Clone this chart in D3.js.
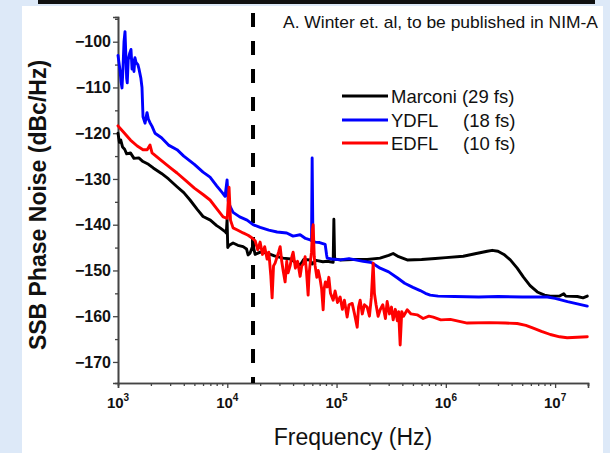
<!DOCTYPE html>
<html><head><meta charset="utf-8">
<script src="https://cdn.jsdelivr.net/npm/d3@7"></script>
<style>
html,body{margin:0;padding:0;background:#dde9f8;}
svg{display:block;}
text{font-family:"Liberation Sans",Arial,Helvetica,sans-serif;fill:#111;}
</style></head>
<body>
<svg id="chart" width="610" height="453"></svg>
<script>
// ---- data ----
const xMajorTicks = [1e3, 1e4, 1e5, 1e6, 1e7];
const xTickExponents = ["3", "4", "5", "6", "7"];
const yMajorTicks = [-100, -110, -120, -130, -140, -150, -160, -170];
const yMinorTicks = [-95, -105, -115, -125, -135, -145, -155, -165];
const seriesNames = ["Marconi", "YDFL", "EDFL"];
const seriesLabels = ["(29 fs)", "(18 fs)", "(10 fs)"];
const seriesColors = ["#000000", "#0000ff", "#ff0000"];
const cutoffFrequency = 17200;
const annotation = "A. Winter et. al, to be published in NIM-A";
const xTitle = "Frequency (Hz)";
const yTitle = "SSB Phase Noise (dBc/Hz)";

const marconi = [
 [1000,-120],[1030,-122],[1060,-121.5],[1100,-123],[1150,-123.5],[1200,-124.5],[1300,-124.3],[1400,-125.5],[1550,-125.4],[1694,-126.2],[1900,-126.8],[2100,-127.6],[2500,-128.8],[2900,-130],[3468,-131.7],[4000,-133],[4563,-134.6],[5287,-136.6],[6001,-138.2],[7000,-139],[8000,-140.2],[8595,-140.7],[9546,-141.5],[9800,-141.8],[9958,-138.8],[10100,-145],[10300,-144.6],[10610,-144.4],[11300,-144],[12500,-144.5],[13960,-144.8],[15000,-145.3],[15500,-146.6],[16170,-146.2],[17220,-144.5],[17980,-146.5],[20000,-146],[23130,-146.2],[27000,-146.8],[32450,-147.3],[38000,-147.5],[42000,-148.2],[46430,-148.8],[50000,-147.6],[57300,-147.7],[60000,-148.6],[65000,-147.8],[75000,-148.1],[82000,-148],[93100,-148.2],[94500,-138.8],[96000,-147.5],[107900,-147.7],[140000,-147.6],[190700,-147.6],[250000,-147.3],[300000,-146.7],[329600,-146.3],[370000,-147],[443300,-147.7],[600000,-147.6],[800000,-147.4],[1.0e6,-147.2],[1.443e6,-146.9],[1.9e6,-146.3],[2.393e6,-145.8],[2.66e6,-145.6],[3.0e6,-145.8],[3.4e6,-146.5],[3.89e6,-147.7],[4.5e6,-149.5],[5.114e6,-151.4],[5.9e6,-153.3],[6.871e6,-154.7],[8.0e6,-155.4],[9.036e6,-155.6],[1.1e7,-155.6],[1.2e7,-155.1],[1.25e7,-155.6],[1.6e7,-155.7],[1.8e7,-156],[1.97e7,-155.6]
];

const ydfl = [
 [1000,-103],[1040,-106],[1070,-109],[1088,-110.1],[1110,-106],[1135,-100],[1159,-97.8],[1180,-103],[1200,-108],[1215,-109],[1240,-104],[1280,-102.5],[1315,-101.7],[1345,-106],[1372,-104],[1400,-106.5],[1430,-103.5],[1462,-104.5],[1520,-105],[1557,-106],[1620,-108],[1658,-110],[1694,-116.4],[1767,-117.8],[1843,-115.5],[1900,-117],[1963,-117.7],[2050,-118.5],[2181,-120],[2500,-121],[2900,-122.6],[3468,-123.6],[4000,-125],[5000,-126.8],[6000,-128.5],[6955,-129.6],[8000,-131.5],[9000,-133],[9546,-133.8],[9958,-130.2],[10200,-134.8],[10610,-136],[11300,-137.3],[13000,-138.3],[15180,-139],[17220,-140],[20000,-140.6],[24000,-141.2],[28580,-141.6],[35000,-141.8],[40000,-142.5],[46430,-142.2],[52000,-143],[57300,-143.3],[59000,-143.5],[59800,-125.4],[60800,-143.6],[63700,-143.8],[70000,-143.9],[78700,-144.3],[81000,-146.5],[82000,-147.3],[90000,-147.5],[107900,-147.7],[130000,-147.4],[175400,-148],[210000,-148.3],[250600,-149.5],[300000,-150.3],[358800,-151.6],[420000,-152.8],[500000,-153.7],[583000,-154.4],[650000,-155],[719500,-155.4],[850000,-155.6],[1.2e6,-155.7],[2.0e6,-155.8],[3.0e6,-155.7],[5.0e6,-155.8],[7.0e6,-155.8],[8.486e6,-155.8],[1.0e7,-156.1],[1.3e7,-156.8],[1.6e7,-157.3],[1.97e7,-157.8]
];

const edfl = [
 [1000,-118.4],[1100,-119.5],[1300,-121.5],[1500,-122.8],[1694,-123.6],[1850,-123.6],[1963,-122.6],[2050,-124.3],[2500,-126],[3000,-127.5],[3468,-128.7],[4200,-130.4],[5000,-132],[6000,-133.4],[6955,-134.6],[8000,-136.5],[9156,-138.3],[10000,-138.6],[10380,-131.8],[10700,-139],[11300,-140.7],[12500,-141.2],[13960,-141.8],[15500,-142.3],[16870,-142.9],[17980,-143.5],[19000,-145.5],[19970,-143.8],[21000,-146.5],[22000,-144.8],[23130,-147.5],[24000,-146],[25000,-151],[25720,-156],[26500,-149],[27400,-148.4],[28580,-147],[29500,-146],[30470,-144.8],[31500,-148],[32450,-150],[33830,-152.5],[35000,-148],[36000,-150.5],[37580,-149],[39000,-147],[40060,-146],[42000,-149.5],[44000,-148],[46430,-151.3],[48000,-149],[50000,-148.5],[51540,-147],[53000,-150],[54940,-155.4],[56000,-151],[57300,-148.5],[59000,-146],[60200,-141],[61100,-140],[62500,-147],[63700,-149],[66000,-151.5],[68000,-150],[70800,-152],[73000,-154],[75400,-158.6],[77000,-154],[79000,-152.5],[82000,-153.6],[85000,-151.5],[88000,-155],[93100,-156.5],[97000,-154.5],[102000,-157],[107900,-155.8],[113000,-158.5],[118000,-156.5],[125000,-160.2],[130000,-157.5],[139000,-157.2],[146000,-159.5],[154500,-162.4],[159000,-158],[164500,-156.5],[172000,-159.5],[180000,-157.5],[190700,-158],[200000,-160],[208000,-156],[216300,-148.4],[222000,-155],[230000,-157.5],[240000,-160],[250600,-158.6],[265000,-157.5],[280000,-160.5],[290400,-156.8],[305000,-159.5],[318000,-158],[329600,-160.8],[345000,-158.5],[360000,-161],[370000,-159],[382000,-166.3],[395000,-159],[410000,-160],[443300,-158.6],[480000,-159.5],[546700,-159.7],[620000,-160.5],[700000,-160],[767000,-160.2],[900000,-160.8],[1.1e6,-160.7],[1.57e6,-161.5],[2.5e6,-161.4],[3.5e6,-161.5],[4.5e6,-161.6],[5.4e6,-162],[6.31e6,-162.6],[7.5e6,-163.3],[9.04e6,-164],[1.1e7,-164.5],[1.29e7,-164.7],[1.6e7,-164.6],[1.97e7,-164.5]
];
const allSeries = [marconi, ydfl, edfl];

// ---- drawing ----
const svg = d3.select("#chart");
svg.append("rect").attr("x",22).attr("y",6).attr("width",581).attr("height",447).attr("fill","#ffffff");
svg.append("rect").attr("x",38).attr("y",0).attr("width",557).attr("height",4).attr("fill","#111111");

const x = d3.scaleLog().domain([1000, 2.0e7]).range([118, 588]);
const y = d3.scaleLinear().domain([-174.6, -94.6]).range([383, 17]);

// minor x ticks
const xMinor = [];
for (let e = 3; e <= 7; e++) for (let k = 2; k <= 9; k++) { const v = k * Math.pow(10, e); if (v <= 2.0e7) xMinor.push(v); }

const axisColor = "#444";
const gxMinor = svg.append("g").attr("transform","translate(0,383)")
  .call(d3.axisBottom(x).tickValues(xMinor).tickSize(3).tickFormat(""));
const gx = svg.append("g").attr("transform","translate(0,383)")
  .call(d3.axisBottom(x).tickValues(xMajorTicks).tickSize(5).tickFormat(""));
const gyMinor = svg.append("g").attr("transform","translate(118,0)")
  .call(d3.axisLeft(y).tickValues(yMinorTicks).tickSize(3).tickFormat(""));
const gy = svg.append("g").attr("transform","translate(118,0)")
  .call(d3.axisLeft(y).tickValues(yMajorTicks).tickSize(5).tickPadding(2).tickFormat(d3.format("d")));
[gxMinor, gx, gyMinor, gy].forEach(g => {
  g.selectAll("path").attr("stroke", axisColor).attr("stroke-width", 1.6);
  g.selectAll("line").attr("stroke", axisColor).attr("stroke-width", 1.3);
});
gy.selectAll("text").attr("font-size", 16).attr("font-weight", "bold")
  .attr("font-family", "Liberation Sans, Arial, sans-serif").attr("fill", "#111");

// x tick labels with superscripts
xMajorTicks.forEach((v, i) => {
  const t = svg.append("text").attr("x", x(v)).attr("y", 408)
    .attr("text-anchor", "middle").attr("font-size", 15).attr("font-weight", "bold");
  t.append("tspan").text("10");
  t.append("tspan").attr("font-size", 10).attr("dy", -7).text(xTickExponents[i]);
});

// cutoff dashed line
svg.append("line").attr("x1", x(cutoffFrequency)).attr("x2", x(cutoffFrequency))
  .attr("y1", 13).attr("y2", 383).attr("stroke", "#000").attr("stroke-width", 4)
  .attr("stroke-dasharray", "14,14");

// series lines
const line = d3.line().x(d => x(d[0])).y(d => y(d[1]));
[0, 1, 2].forEach(i => {
  svg.append("path").datum(allSeries[i]).attr("d", line)
    .attr("fill", "none").attr("stroke", seriesColors[i]).attr("stroke-width", 2.9)
    .attr("stroke-linejoin", "round").attr("stroke-linecap", "round");
});

// axis titles
svg.append("text").attr("x", 353).attr("y", 445).attr("text-anchor", "middle")
  .attr("font-size", 23).text(xTitle);
svg.append("text").attr("transform", "translate(46,205) rotate(-90)").attr("text-anchor", "middle")
  .attr("font-size", 23).attr("font-weight", "bold").text(yTitle);

// annotation
svg.append("text").attr("x", 283).attr("y", 28).attr("font-size", 17)
  .attr("textLength", 315).attr("lengthAdjust", "spacingAndGlyphs").text(annotation);

// legend
const legendY = [96, 120, 143];
[0, 1, 2].forEach(i => {
  svg.append("line").attr("x1", 342).attr("x2", 388).attr("y1", legendY[i]).attr("y2", legendY[i])
    .attr("stroke", seriesColors[i]).attr("stroke-width", 3);
  const t = svg.append("text").attr("x", 391).attr("y", legendY[i] + 7).attr("font-size", 18.5);
  if (i === 0) {
    t.text(seriesNames[i] + " " + seriesLabels[i]);
  } else {
    t.append("tspan").text(seriesNames[i]);
    t.append("tspan").attr("x", 463).text(seriesLabels[i]);
  }
});
</script>
</body></html>
